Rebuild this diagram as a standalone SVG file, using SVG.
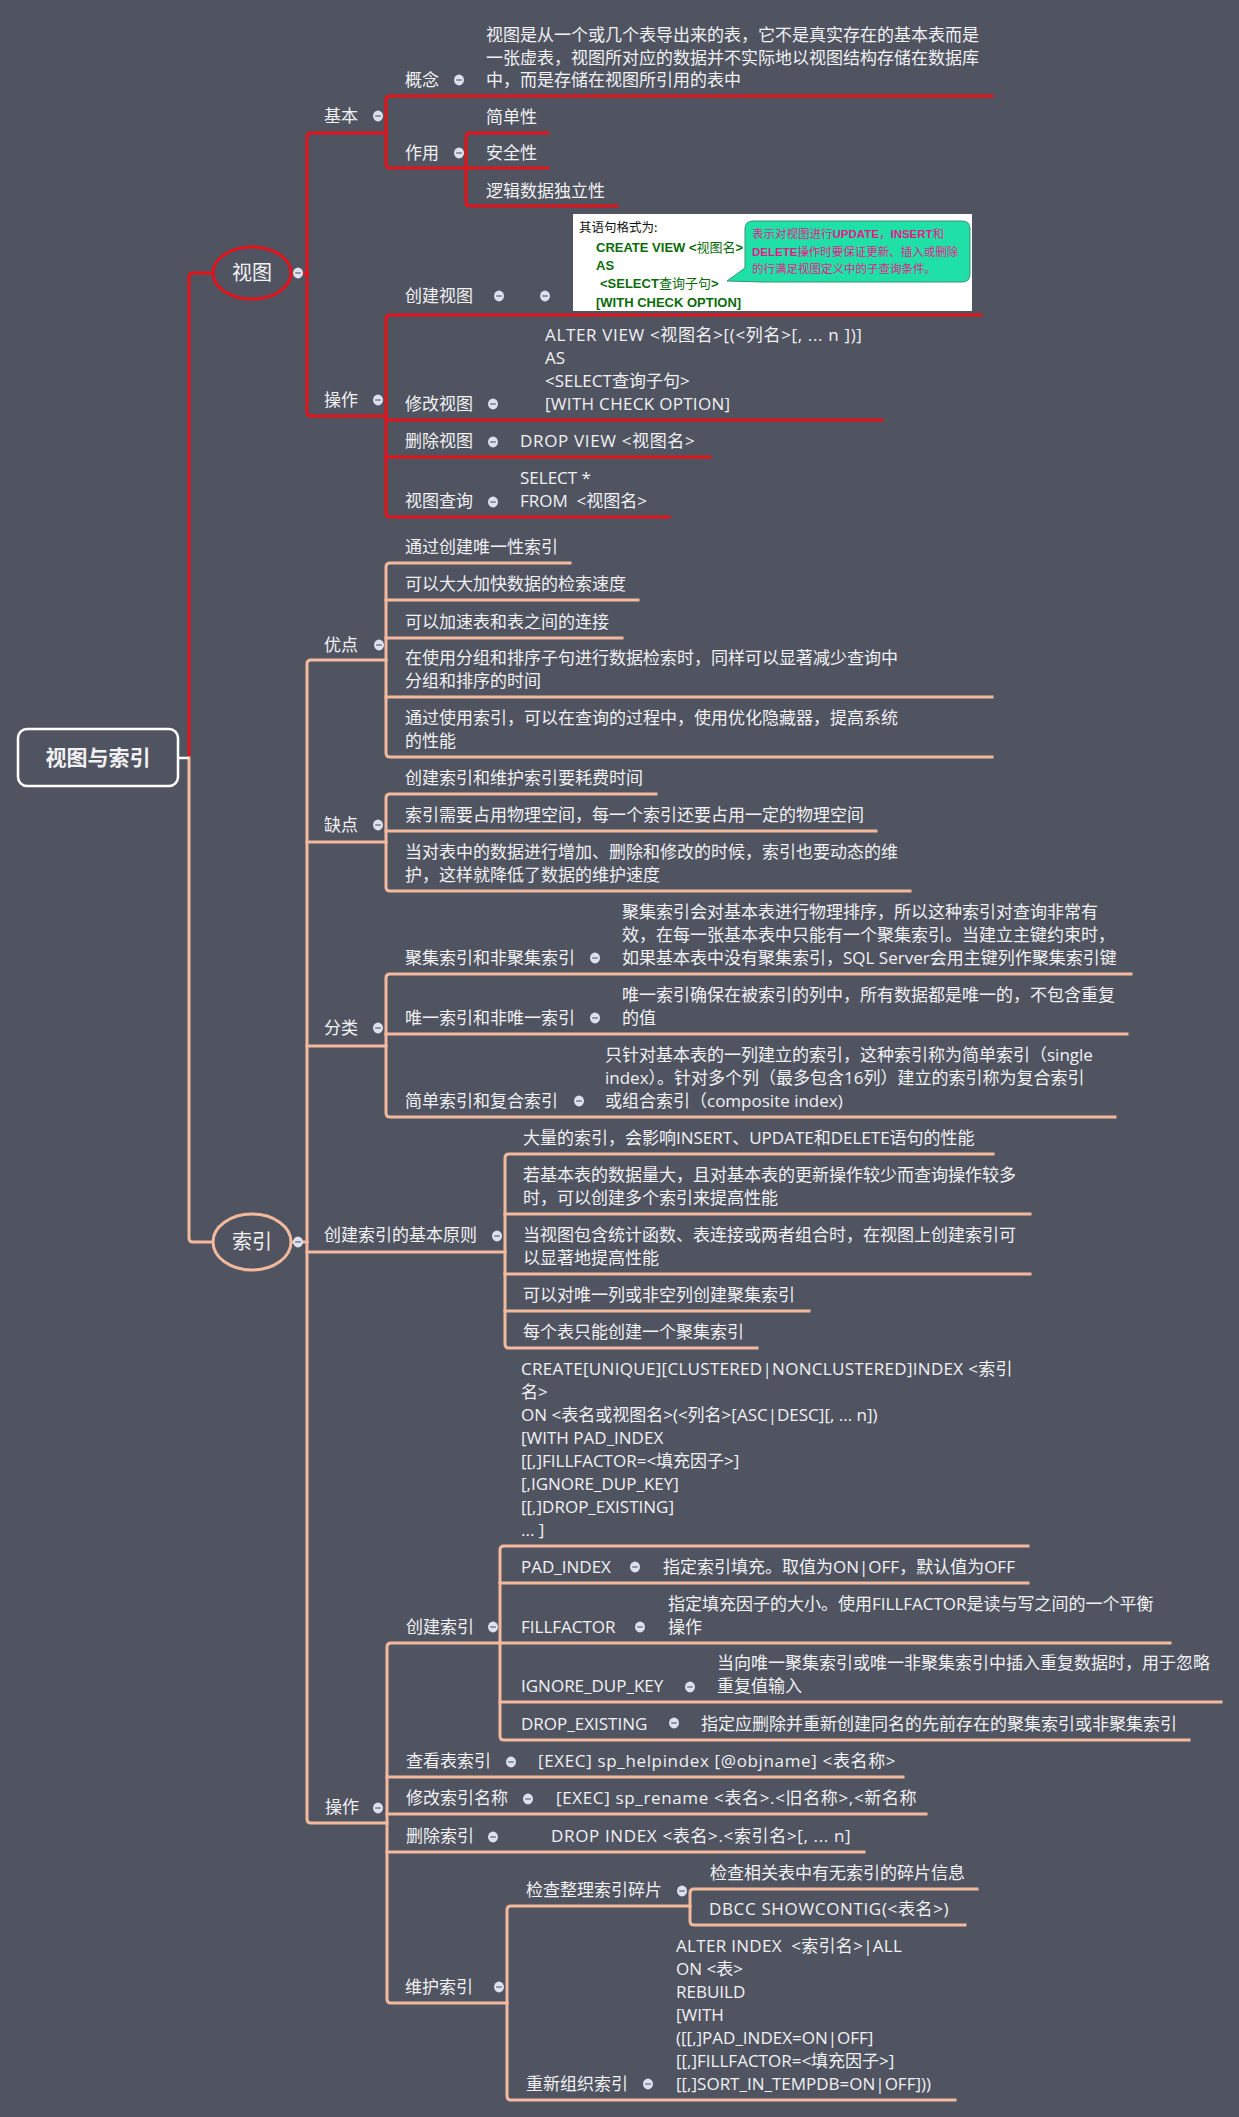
<svg xmlns="http://www.w3.org/2000/svg" xmlns:xlink="http://www.w3.org/1999/xlink" width="1239" height="2117" viewBox="0 0 1239 2117">
  <style>
    text { white-space: pre; }
    .t { font-family: "Open Sans", "Noto Sans CJK SC", sans-serif; font-size: 17px; fill: #f1f1f3; }
    .ls6 { letter-spacing: 0.65px; }
    .ls3 { letter-spacing: 0.3px; }
    .big { font-size: 20px; }
    .root { font-size: 21px; font-weight: bold; }
    .r { stroke: #e3131c; stroke-width: 3; fill: none; stroke-linecap: square; }
    .p { stroke: #f2b99d; stroke-width: 3; fill: none; stroke-linecap: square; }
    .code { font-family: "Liberation Sans", "Noto Sans CJK SC", sans-serif; font-size: 13px; font-weight: bold; fill: #0b6b0b; }
    .code .cj { font-family: "Noto Sans CJK SC", sans-serif; font-weight: normal; }
    .tip { font-family: "Noto Sans CJK SC", sans-serif; font-size: 11.5px; fill: #e5198c; }
    .tip .en { font-family: "Liberation Sans", sans-serif; font-weight: bold; }
  </style>
  <defs>
    <g id="dot">
      <ellipse rx="5" ry="5.4" fill="#dde1ee"/>
      <line x1="-2.8" x2="2.8" y1="0" y2="0" stroke="#6a7185" stroke-width="1.4"/>
    </g>
  </defs>

  <rect x="0" y="0" width="1239" height="2117" fill="#505461"/>

  <!-- connectors -->
  <g id="connectors">
    <!-- root to branches -->
    <path class="r" d="M 189 758 V 277 Q 189 273 193 273 H 213"/>
    <path class="p" d="M 189 758 V 1238 Q 189 1242 193 1242 H 213"/>
    <path d="M 179 758 H 189" stroke="#ffffff" stroke-width="2.5" fill="none"/>

    <!-- 视图 -->
    <path class="r" d="M 291 273 H 307"/>
    <path class="r" d="M 386 133 H 311 Q 307 133 307 137 V 412 Q 307 416 311 416 H 386"/>
    <path class="r" d="M 992 96 H 390 Q 386 96 386 100 V 164 Q 386 168 390 168 H 466"/>
    <path class="r" d="M 548 133 H 470 Q 466 133 466 137 V 202 Q 466 206 470 206 H 617"/>
    <path class="r" d="M 466 168 H 548"/>
    <path class="r" d="M 981 315 H 390 Q 386 315 386 319 V 513 Q 386 517 390 517 H 669"/>
    <path class="r" d="M 386 420 H 882"/>
    <path class="r" d="M 386 457 H 710"/>

    <!-- 索引 -->
    <path class="p" d="M 291 1242 H 307"/>
    <path class="p" d="M 386 660 H 311 Q 307 660 307 664 V 1819 Q 307 1823 311 1823 H 387"/>
    <path class="p" d="M 307 842 H 386"/>
    <path class="p" d="M 307 1046 H 386"/>
    <path class="p" d="M 307 1252 H 505"/>

    <!-- 优点 -->
    <path class="p" d="M 570 563 H 390 Q 386 563 386 567 V 753 Q 386 757 390 757 H 992"/>
    <path class="p" d="M 386 600 H 638"/>
    <path class="p" d="M 386 638 H 622"/>
    <path class="p" d="M 386 697 H 992"/>

    <!-- 缺点 -->
    <path class="p" d="M 656 794 H 390 Q 386 794 386 798 V 887 Q 386 891 390 891 H 910"/>
    <path class="p" d="M 386 831 H 876"/>

    <!-- 分类 -->
    <path class="p" d="M 1131 974 H 390 Q 386 974 386 978 V 1113 Q 386 1117 390 1117 H 1115"/>
    <path class="p" d="M 386 1034 H 1127"/>

    <!-- 创建索引的基本原则 -->
    <path class="p" d="M 993 1154 H 509 Q 505 1154 505 1158 V 1344 Q 505 1348 509 1348 H 757"/>
    <path class="p" d="M 505 1214 H 1030"/>
    <path class="p" d="M 505 1274 H 1030"/>
    <path class="p" d="M 505 1311 H 809"/>

    <!-- 操作 (索引) -->
    <path class="p" d="M 500 1643 H 391 Q 387 1643 387 1647 V 1999 Q 387 2003 391 2003 H 507"/>
    <path class="p" d="M 387 1777 H 903"/>
    <path class="p" d="M 387 1814 H 926"/>
    <path class="p" d="M 387 1852 H 864"/>

    <!-- 创建索引 -->
    <path class="p" d="M 1028 1546 H 504 Q 500 1546 500 1550 V 1736 Q 500 1740 504 1740 H 1189"/>
    <path class="p" d="M 500 1583 H 1028"/>
    <path class="p" d="M 500 1643 H 1170"/>
    <path class="p" d="M 500 1702 H 1221"/>

    <!-- 维护索引 -->
    <path class="p" d="M 690 1906 H 511 Q 507 1906 507 1910 V 2096 Q 507 2100 511 2100 H 955"/>
    <path class="p" d="M 977 1889 H 694 Q 690 1889 690 1893 V 1921 Q 690 1925 694 1925 H 965"/>
  </g>

  <!-- root -->
  <g id="root">
    <rect x="18" y="729" width="160" height="57" rx="9" fill="#505461" stroke="#ffffff" stroke-width="2.5"/>
    <text class="t root" x="98" y="765" text-anchor="middle">视图与索引</text>
  </g>

  <!-- 视图 branch -->
  <g id="view">
    <ellipse cx="252" cy="273" rx="39" ry="26" fill="#505461" stroke="#e3131c" stroke-width="3"/>
    <text class="t big" x="252" y="280" text-anchor="middle">视图</text>
    <use xlink:href="#dot" x="298" y="273"/>
  </g>

  <g id="view-basic">
    <text class="t" x="324" y="122">基本</text>
    <use xlink:href="#dot" x="378" y="116"/>
  </g>
  <g id="view-concept">
    <text class="t" x="405" y="86">概念</text>
    <use xlink:href="#dot" x="459" y="80"/>
  </g>
  <g id="view-concept-text">
    <text class="t" x="486" y="41">视图是从一个或几个表导出来的表，它不是真实存在的基本表而是</text>
    <text class="t" x="486" y="63.5">一张虚表，视图所对应的数据并不实际地以视图结构存储在数据库</text>
    <text class="t" x="486" y="86">中，而是存储在视图所引用的表中</text>
  </g>
  <g id="view-role">
    <text class="t" x="405" y="159">作用</text>
    <use xlink:href="#dot" x="459" y="153"/>
  </g>
  <g id="view-role-1"><text class="t" x="486" y="123">简单性</text></g>
  <g id="view-role-2"><text class="t" x="486" y="159">安全性</text></g>
  <g id="view-role-3"><text class="t" x="486" y="197">逻辑数据独立性</text></g>

  <g id="view-ops">
    <text class="t" x="324" y="406">操作</text>
    <use xlink:href="#dot" x="378" y="400"/>
  </g>
  <g id="view-create">
    <text class="t" x="405" y="302">创建视图</text>
    <use xlink:href="#dot" x="499" y="296"/>
    <use xlink:href="#dot" x="545" y="296"/>
  </g>
  <g id="view-create-syntax">
    <rect x="573" y="214" width="399" height="97" fill="#ffffff"/>
    <text x="579" y="232" font-family="'Noto Sans CJK SC', serif" font-size="12.5" fill="#111111">其语句格式为:</text>
    <text class="code" x="596" y="252">CREATE VIEW &lt;<tspan class="cj">视图名</tspan>&gt;</text>
    <text class="code" x="596" y="270">AS</text>
    <text class="code" x="600" y="288">&lt;SELECT<tspan class="cj">查询子句</tspan>&gt;</text>
    <text class="code" x="596" y="307">[WITH CHECK OPTION]</text>
    <path d="M 753 221 H 962 Q 970 221 970 229 V 274 Q 970 282 962 282 H 763 L 727 281 L 745 268 V 229 Q 745 221 753 221 Z" fill="#1fe0a6" stroke="#3a8f73" stroke-width="1"/>
    <text class="tip" x="752" y="238">表示对视图进行<tspan class="en">UPDATE</tspan>，<tspan class="en">INSERT</tspan>和</text>
    <text class="tip" x="752" y="256"><tspan class="en">DELETE</tspan>操作时要保证更新、插入或删除</text>
    <text class="tip" x="752" y="273">的行满足视图定义中的子查询条件。</text>
  </g>
  <g id="view-alter">
    <text class="t" x="405" y="410">修改视图</text>
    <use xlink:href="#dot" x="493" y="404"/>
    <text class="t ls6" x="545" y="341">ALTER VIEW &lt;视图名&gt;[(&lt;列名&gt;[, ... n ])]</text>
    <text class="t" x="545" y="364">AS</text>
    <text class="t" x="545" y="387">&lt;SELECT查询子句&gt;</text>
    <text class="t ls3" x="545" y="410">[WITH CHECK OPTION]</text>
  </g>
  <g id="view-drop">
    <text class="t" x="405" y="447">删除视图</text>
    <use xlink:href="#dot" x="493" y="442"/>
    <text class="t ls6" x="520" y="447">DROP VIEW &lt;视图名&gt;</text>
  </g>
  <g id="view-query">
    <text class="t" x="405" y="507">视图查询</text>
    <use xlink:href="#dot" x="493" y="502"/>
    <text class="t" x="520" y="484">SELECT *</text>
    <text class="t" x="520" y="507">FROM  &lt;视图名&gt;</text>
  </g>

  <!-- 索引 branch -->
  <g id="index">
    <ellipse cx="252" cy="1242" rx="39" ry="28" fill="#505461" stroke="#f2b99d" stroke-width="3"/>
    <text class="t big" x="252" y="1249" text-anchor="middle">索引</text>
    <use xlink:href="#dot" x="298" y="1242"/>
  </g>

  <g id="index-pros">
    <text class="t" x="324" y="651">优点</text>
    <use xlink:href="#dot" x="379" y="645"/>
  </g>
  <g id="pros-1"><text class="t" x="405" y="553">通过创建唯一性索引</text></g>
  <g id="pros-2"><text class="t" x="405" y="590">可以大大加快数据的检索速度</text></g>
  <g id="pros-3"><text class="t" x="405" y="628">可以加速表和表之间的连接</text></g>
  <g id="pros-4">
    <text class="t" x="405" y="664">在使用分组和排序子句进行数据检索时，同样可以显著减少查询中</text>
    <text class="t" x="405" y="687">分组和排序的时间</text>
  </g>
  <g id="pros-5">
    <text class="t" x="405" y="724">通过使用索引，可以在查询的过程中，使用优化隐藏器，提高系统</text>
    <text class="t" x="405" y="747">的性能</text>
  </g>

  <g id="index-cons">
    <text class="t" x="324" y="831">缺点</text>
    <use xlink:href="#dot" x="378" y="825"/>
  </g>
  <g id="cons-1"><text class="t" x="405" y="784">创建索引和维护索引要耗费时间</text></g>
  <g id="cons-2"><text class="t" x="405" y="821">索引需要占用物理空间，每一个索引还要占用一定的物理空间</text></g>
  <g id="cons-3">
    <text class="t" x="405" y="858">当对表中的数据进行增加、删除和修改的时候，索引也要动态的维</text>
    <text class="t" x="405" y="881">护，这样就降低了数据的维护速度</text>
  </g>

  <g id="index-kinds">
    <text class="t" x="324" y="1034">分类</text>
    <use xlink:href="#dot" x="378" y="1028"/>
  </g>
  <g id="kind-clustered">
    <text class="t" x="405" y="964">聚集索引和非聚集索引</text>
    <use xlink:href="#dot" x="595" y="958"/>
    <text class="t" x="622" y="918">聚集索引会对基本表进行物理排序，所以这种索引对查询非常有</text>
    <text class="t" x="622" y="941">效，在每一张基本表中只能有一个聚集索引。当建立主键约束时，</text>
    <text class="t" x="622" y="964">如果基本表中没有聚集索引，SQL Server会用主键列作聚集索引键</text>
  </g>
  <g id="kind-unique">
    <text class="t" x="405" y="1024">唯一索引和非唯一索引</text>
    <use xlink:href="#dot" x="595" y="1018"/>
    <text class="t" x="622" y="1001">唯一索引确保在被索引的列中，所有数据都是唯一的，不包含重复</text>
    <text class="t" x="622" y="1024">的值</text>
  </g>
  <g id="kind-composite">
    <text class="t" x="405" y="1107">简单索引和复合索引</text>
    <use xlink:href="#dot" x="579" y="1101"/>
    <text class="t" x="605" y="1061">只针对基本表的一列建立的索引，这种索引称为简单索引（single</text>
    <text class="t" x="605" y="1084">index）。针对多个列（最多包含16列）建立的索引称为复合索引</text>
    <text class="t" x="605" y="1107">或组合索引（composite index)</text>
  </g>

  <g id="index-rules">
    <text class="t" x="324" y="1241">创建索引的基本原则</text>
    <use xlink:href="#dot" x="497" y="1236"/>
  </g>
  <g id="rule-1"><text class="t" x="523" y="1144">大量的索引，会影响INSERT、UPDATE和DELETE语句的性能</text></g>
  <g id="rule-2">
    <text class="t" x="523" y="1181">若基本表的数据量大，且对基本表的更新操作较少而查询操作较多</text>
    <text class="t" x="523" y="1204">时，可以创建多个索引来提高性能</text>
  </g>
  <g id="rule-3">
    <text class="t" x="523" y="1241">当视图包含统计函数、表连接或两者组合时，在视图上创建索引可</text>
    <text class="t" x="523" y="1264">以显著地提高性能</text>
  </g>
  <g id="rule-4"><text class="t" x="523" y="1301">可以对唯一列或非空列创建聚集索引</text></g>
  <g id="rule-5"><text class="t" x="523" y="1338">每个表只能创建一个聚集索引</text></g>

  <g id="index-ops">
    <text class="t" x="325" y="1813">操作</text>
    <use xlink:href="#dot" x="378" y="1808"/>
  </g>
  <g id="op-create">
    <text class="t" x="406" y="1633">创建索引</text>
    <use xlink:href="#dot" x="493" y="1627"/>
  </g>
  <g id="op-create-syntax">
    <text class="t ls3" x="521" y="1375">CREATE[UNIQUE][CLUSTERED|NONCLUSTERED]INDEX &lt;索引</text>
    <text class="t" x="521" y="1398">名&gt;</text>
    <text class="t" x="521" y="1421">ON &lt;表名或视图名&gt;(&lt;列名&gt;[ASC|DESC][, ... n])</text>
    <text class="t" x="521" y="1444">[WITH PAD_INDEX</text>
    <text class="t" x="521" y="1467">[[,]FILLFACTOR=&lt;填充因子&gt;]</text>
    <text class="t" x="521" y="1490">[,IGNORE_DUP_KEY]</text>
    <text class="t" x="521" y="1513">[[,]DROP_EXISTING]</text>
    <text class="t" x="521" y="1536">... ]</text>
  </g>
  <g id="opt-pad">
    <text class="t" x="521" y="1573">PAD_INDEX</text>
    <use xlink:href="#dot" x="635" y="1567"/>
    <text class="t" x="663" y="1573">指定索引填充。取值为ON|OFF，默认值为OFF</text>
  </g>
  <g id="opt-fill">
    <text class="t" x="521" y="1633">FILLFACTOR</text>
    <use xlink:href="#dot" x="640" y="1627"/>
    <text class="t" x="668" y="1610">指定填充因子的大小。使用FILLFACTOR是读与写之间的一个平衡</text>
    <text class="t" x="668" y="1633">操作</text>
  </g>
  <g id="opt-ignore">
    <text class="t" x="521" y="1692">IGNORE_DUP_KEY</text>
    <use xlink:href="#dot" x="690" y="1687"/>
    <text class="t" x="717" y="1669">当向唯一聚集索引或唯一非聚集索引中插入重复数据时，用于忽略</text>
    <text class="t" x="717" y="1692">重复值输入</text>
  </g>
  <g id="opt-drop">
    <text class="t" x="521" y="1730">DROP_EXISTING</text>
    <use xlink:href="#dot" x="674" y="1723"/>
    <text class="t" x="701" y="1730">指定应删除并重新创建同名的先前存在的聚集索引或非聚集索引</text>
  </g>
  <g id="op-view">
    <text class="t" x="406" y="1767">查看表索引</text>
    <use xlink:href="#dot" x="511" y="1762"/>
    <text class="t ls6" x="538" y="1767">[EXEC] sp_helpindex [@objname] &lt;表名称&gt;</text>
  </g>
  <g id="op-rename">
    <text class="t" x="406" y="1804">修改索引名称</text>
    <use xlink:href="#dot" x="528" y="1799"/>
    <text class="t ls6" x="556" y="1804">[EXEC] sp_rename &lt;表名&gt;.&lt;旧名称&gt;,&lt;新名称</text>
  </g>
  <g id="op-drop">
    <text class="t" x="406" y="1842">删除索引</text>
    <use xlink:href="#dot" x="493" y="1837"/>
    <text class="t ls6" x="551" y="1842">DROP INDEX &lt;表名&gt;.&lt;索引名&gt;[, ... n]</text>
  </g>
  <g id="op-maintain">
    <text class="t" x="405" y="1993">维护索引</text>
    <use xlink:href="#dot" x="499" y="1987"/>
  </g>
  <g id="maintain-check">
    <text class="t" x="526" y="1896">检查整理索引碎片</text>
    <use xlink:href="#dot" x="682" y="1891"/>
  </g>
  <g id="check-info"><text class="t" x="710" y="1879">检查相关表中有无索引的碎片信息</text></g>
  <g id="check-dbcc"><text class="t ls6" x="709" y="1915">DBCC SHOWCONTIG(&lt;表名&gt;)</text></g>
  <g id="maintain-rebuild">
    <text class="t" x="526" y="2090">重新组织索引</text>
    <use xlink:href="#dot" x="648" y="2084"/>
    <text class="t ls3" x="676" y="1952">ALTER INDEX  &lt;索引名&gt;|ALL</text>
    <text class="t" x="676" y="1975">ON &lt;表&gt;</text>
    <text class="t" x="676" y="1998">REBUILD</text>
    <text class="t" x="676" y="2021">[WITH</text>
    <text class="t" x="676" y="2044">([[,]PAD_INDEX=ON|OFF]</text>
    <text class="t" x="676" y="2067">[[,]FILLFACTOR=&lt;填充因子&gt;]</text>
    <text class="t" x="676" y="2090">[[,]SORT_IN_TEMPDB=ON|OFF]))</text>
  </g>
</svg>
